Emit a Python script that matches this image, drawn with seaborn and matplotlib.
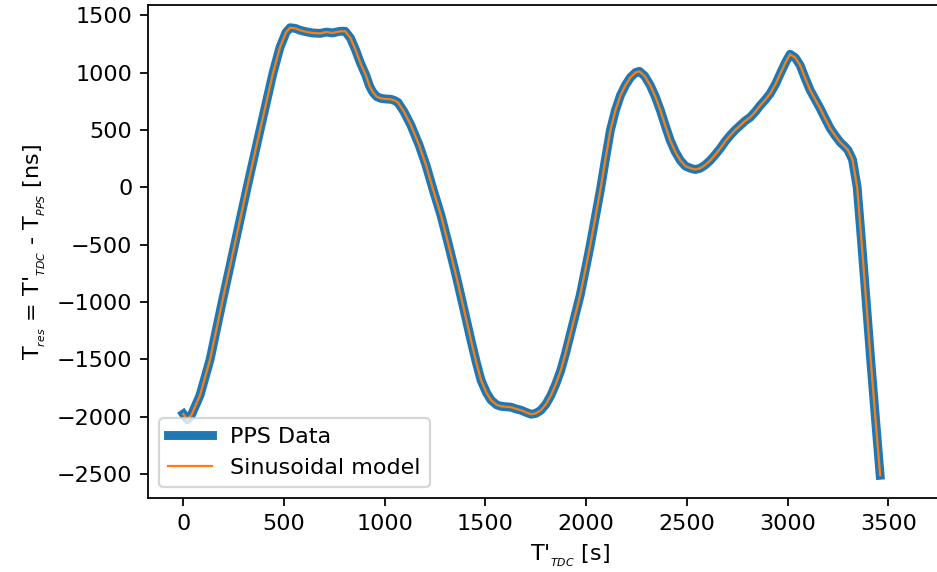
import matplotlib
matplotlib.use("Agg")
import matplotlib.pyplot as plt
import seaborn as sns
import pandas as pd

# time stamps (s)
t_tdc = [0, 20, 40, 83, 133, 193, 255, 317, 381, 446, 480, 510, 530, 555, 580,
         610, 640, 679, 710, 740, 778, 803, 830, 856, 880, 906, 925, 941, 960,
         981, 1000, 1030, 1050, 1065, 1095, 1130, 1170, 1205, 1240, 1279, 1315,
         1354, 1390, 1428, 1455, 1478, 1505, 1528, 1555, 1577, 1600, 1627, 1650,
         1676, 1700, 1726, 1750, 1775, 1800, 1825, 1850, 1874, 1897, 1920, 1945,
         1970, 1995, 2020, 2045, 2070, 2095, 2120, 2145, 2170, 2195, 2220, 2245,
         2264, 2290, 2318, 2343, 2368, 2392, 2417, 2442, 2467, 2492, 2517, 2541,
         2566, 2591, 2616, 2641, 2666, 2690, 2715, 2740, 2765, 2790, 2814, 2840,
         2864, 2890, 2914, 2940, 2964, 2990, 3012, 3037, 3062, 3087, 3112, 3137,
         3161, 3186, 3211, 3236, 3261, 3285, 3300, 3322, 3345, 3368, 3390, 3412,
         3435, 3459]

# residuals (ns)
t_res = [-1975, -2025, -1985, -1812, -1500, -1000, -500, 0, 500, 1000, 1220, 1350,
         1390, 1385, 1368, 1355, 1345, 1341, 1352, 1345, 1359, 1360, 1300, 1193,
         1080, 976, 880, 828, 790, 775, 770, 767, 755, 740, 660, 540, 370, 192,
         -20, -244, -490, -767, -1040, -1333, -1530, -1681, -1790, -1855, -1895,
         -1908, -1912, -1916, -1930, -1942, -1960, -1977, -1970, -1942, -1890,
         -1812, -1710, -1594, -1450, -1289, -1115, -941, -725, -505, -265, -26,
         240, 497, 670, 801, 890, 958, 1000, 1010, 970, 888, 790, 671, 540, 409,
         310, 235, 185, 166, 155, 166, 195, 235, 285, 340, 400, 453, 500, 540,
         580, 610, 660, 714, 765, 819, 900, 993, 1090, 1159, 1130, 1063, 950, 845,
         765, 688, 600, 514, 450, 392, 352, 322, 240, 0, -500, -1000, -1500,
         -2000, -2509]

df = pd.DataFrame({"t": t_tdc, "res": t_res})

fig = plt.figure(figsize=(937 / 160, 572 / 160), dpi=160)
ax = fig.add_axes([0.158, 0.129, 0.9, 0.862])

sns.lineplot(data=df, x="t", y="res", ax=ax, color="tab:blue", lw=4, label="PPS Data")
sns.lineplot(data=df, x="t", y="res", ax=ax, color="tab:orange", lw=1, label="Sinusoidal model")

ax.set_xlim(-175, 4011)
ax.set_ylim(-2709, 1587)
ax.set_xticks([0, 500, 1000, 1500, 2000, 2500, 3000, 3500])
ax.set_xlabel(r"T'$_{_{TDC}}$ [s]")
ax.set_ylabel(r"T$_{_{res}}$ = T'$_{_{TDC}}$ - T$_{_{PPS}}$ [ns]")
ax.legend(loc="lower left")

fig.savefig("out.png", dpi=160)
